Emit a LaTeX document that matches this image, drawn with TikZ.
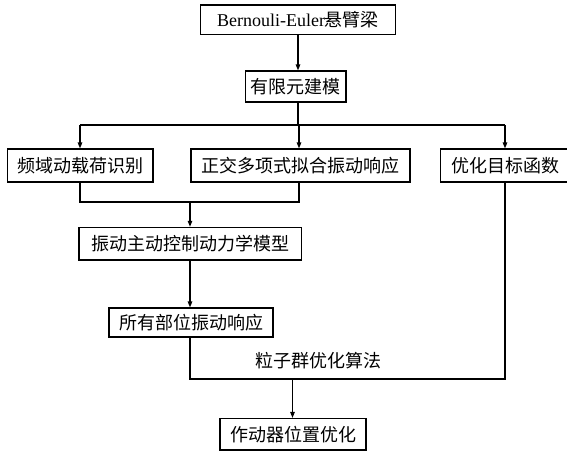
\documentclass[tikz,border=0pt]{standalone}
\usepackage{fontspec}
\setmainfont{Liberation Serif}
\newfontfamily\cjk{Noto Sans CJK SC}
\usetikzlibrary{arrows.meta}
\begin{document}
\begin{tikzpicture}[x=1pt,y=-1pt,
  box/.style={draw,line width=1.2pt,inner sep=0pt,minimum width=#1,font=\fontsize{18}{20}\selectfont\cjk},
  ln/.style={line width=1.2pt},
  arr/.style={line width=1.2pt,-{Triangle[length=6pt,width=4.5pt]}},
  lbl/.style={inner sep=0pt,font=\fontsize{18}{20}\selectfont\cjk}]
\useasboundingbox (0,0) rectangle (567,451);
\node[box=195pt,minimum height=29.5pt,font=\fontsize{18}{20}\selectfont] (b1) at (298,19.75) {Bernouli-Euler{\cjk 悬臂梁}};
\node[box=100.5pt,minimum height=31pt] (b2) at (295.75,86.5) {有限元建模};
\node[box=145.5pt,minimum height=33pt] (b3) at (80.25,165.5) {频域动载荷识别};
\node[box=219pt,minimum height=33pt] (b4) at (300.5,165.5) {正交多项式拟合振动响应};
\node[box=134.5pt,minimum height=33pt] (b5) at (507.75,165.5) {\hspace*{-4pt}优化目标函数};
\node[box=222.5pt,minimum height=32.7pt] (b6) at (190.25,243.7) {振动主动控制动力学模型};
\node[box=164pt,minimum height=29pt] (b7) at (191,322.5) {所有部位振动响应};
\node[box=146pt,minimum height=31.5pt] (b8) at (293,434.25) {作动器位置优化};
\node[lbl] (pso) at (318,360.7) {粒子群优化算法};
\coordinate (s1) at (298,0);
\coordinate (split) at (298,125);
\coordinate (sl) at (80,125);
\coordinate (sr) at (505,125);
\coordinate (sm) at (299,125);
\coordinate (m1) at (80,202);
\coordinate (m2) at (299,202);
\coordinate (m3) at (190,202);
\coordinate (j1) at (190,379);
\coordinate (j2) at (505,379);
\coordinate (j3) at (292.5,379);
\draw[arr] (s1 |- b1.south) -- (s1 |- b2.north);
\draw[ln] (split |- b2.south) -- (split);
\draw[ln] (sl) -- (sr);
\draw[arr] (sl) -- (sl |- b3.north);
\draw[arr] (sm) -- (sm |- b4.north);
\draw[arr] (sr) -- (sr |- b5.north);
\draw[ln] (m1 |- b3.south) -- (m1) -- (m2) -- (m2 |- b4.south);
\draw[arr] (m3) -- (m3 |- b6.north);
\draw[arr] (m3 |- b6.south) -- (m3 |- b7.north);
\draw[ln] (j1 |- b7.south) -- (j1) -- (j2) -- (j2 |- b5.south);
\draw[arr] (j3) -- (j3 |- b8.north);
\end{tikzpicture}
\end{document}
